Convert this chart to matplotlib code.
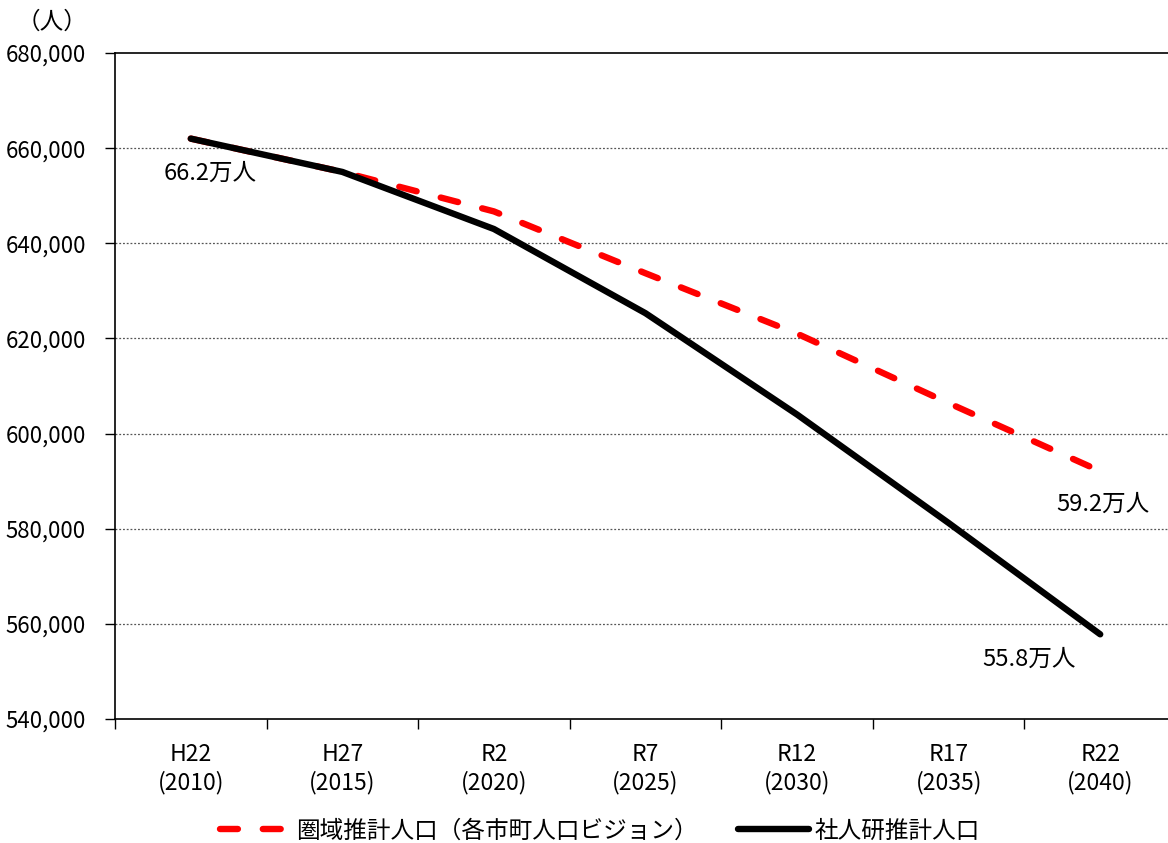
import matplotlib
matplotlib.use("Agg")
import matplotlib.pyplot as plt
from matplotlib.ticker import FuncFormatter, FixedLocator

plt.rcParams['font.family'] = ['Noto Sans CJK JP', 'DejaVu Sans']

categories = ["H22\n(2010)", "H27\n(2015)", "R2\n(2020)", "R7\n(2025)",
              "R12\n(2030)", "R17\n(2035)", "R22\n(2040)"]
regional = [662000, 655000, 646700, 633700, 621000, 606400, 592100]
ipss = [662000, 655000, 643000, 625300, 604000, 581200, 557800]
regional_label = "圏域推計人口（各市町人口ビジョン）"
ipss_label = "社人研推計人口"
yticks = [540000, 560000, 580000, 600000, 620000, 640000, 660000, 680000]

fig = plt.figure(figsize=(11.68, 8.43), dpi=100)
ax = fig.add_axes([115/1168, 1-719/843, (1176-115)/1168, (719-53)/843])

x = list(range(len(categories)))
ax.plot(x, regional, color='#FF0000', lw=4.6, linestyle=(0, (2.8, 3.9)),
        dash_capstyle='round', label=regional_label, zorder=3)
ax.plot(x, ipss, color='black', lw=4.6, solid_capstyle='round',
        label=ipss_label, zorder=4)

ax.set_xlim(-0.5, len(categories) - 0.5)
ax.set_ylim(540000, 680000)
ax.set_yticks(yticks)
ax.yaxis.set_major_formatter(FuncFormatter(lambda v, p: f"{int(v):,}"))
ax.set_xticks(x)
ax.set_xticklabels(categories)
ax.xaxis.set_minor_locator(FixedLocator([i + 0.5 for i in range(-1, len(categories))]))
ax.tick_params(axis='x', which='major', length=0, pad=17, labelsize=16.5)
ax.tick_params(axis='x', which='minor', length=7, width=1, direction='out')
ax.tick_params(axis='y', length=7, width=1, direction='out', pad=14, labelsize=16)
for lab in ax.get_xticklabels():
    lab.set_linespacing(1.25)

for v in yticks[1:-1]:
    ax.axhline(v, color='#555555', lw=0.9, linestyle=(0, (1.5, 1.5)), zorder=1)

ax.spines['right'].set_visible(False)
ax.spines['top'].set_linewidth(1.2)
ax.spines['left'].set_linewidth(1.2)
ax.spines['bottom'].set_linewidth(1.2)

ax.text(0.13, 654700, "66.2万人", fontsize=17, ha='center', va='center')
ax.text(6.02, 585100, "59.2万人", fontsize=17, ha='center', va='center')
ax.text(5.53, 552600, "55.8万人", fontsize=17, ha='center', va='center')

fig.text(52/1168, 1-22/843, "（人）", fontsize=17, ha='center', va='center')

fig.legend(loc='center', bbox_to_anchor=(600/1168, 1-831/843), ncol=2,
           frameon=False, fontsize=17, handlelength=3.0, handletextpad=0.25,
           columnspacing=1.7)

fig.savefig("out.png", dpi=100)
